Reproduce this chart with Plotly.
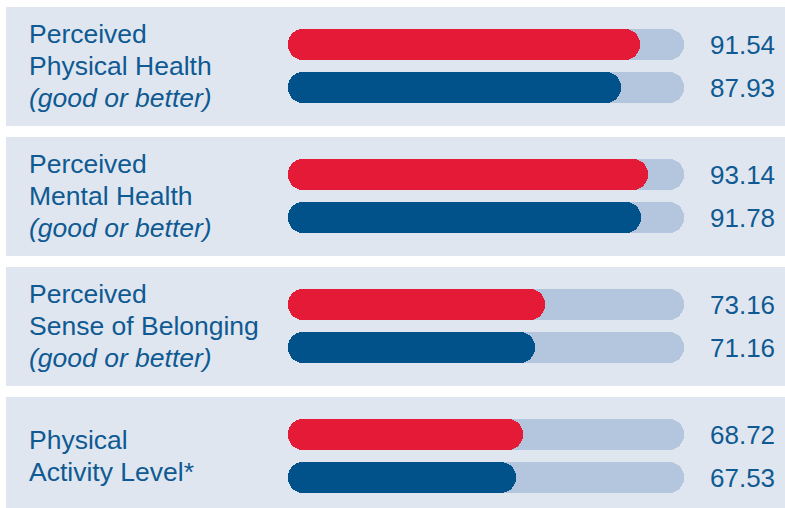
import plotly.graph_objects as go

# --- Data ---
label_lines = [
    ["Perceived", "Physical Health", "<i>(good or better)</i>"],
    ["Perceived", "Mental Health", "<i>(good or better)</i>"],
    ["Perceived", "Sense of Belonging", "<i>(good or better)</i>"],
    ["Physical", "Activity Level*"],
]
red_values = [91.54, 93.14, 73.16, 68.72]
blue_values = [87.93, 91.78, 71.16, 67.53]
track_max = 100

# --- Style ---
RED = "#e41a37"
BLUE = "#01518a"
TRACK = "#b4c6de"
PANEL = "#dfe6f0"
TEXT = "#0f5a92"
FONT = "Liberation Sans, Arial, sans-serif"

TRACK_START = 23.24   # where the visible track begins on the value scale
OFFSET = 0.1654       # red/blue offset from the panel centre (panel spacing = 1)
BAR_W = 0.2385

n = len(red_values)
panels = list(range(n))
y_red = [i - OFFSET for i in panels]
y_blue = [i + OFFSET for i in panels]

fig = go.Figure()


def add_round_bar(ys, ends, color):
    fig.add_trace(go.Bar(
        y=ys, x=[e - TRACK_START for e in ends], base=TRACK_START,
        orientation="h", width=BAR_W,
        marker=dict(color=color, cornerradius="50%", line_width=0),
        hoverinfo="skip", showlegend=False,
    ))


add_round_bar(y_red + y_blue, [track_max] * (2 * n), TRACK)
add_round_bar(y_red, red_values, RED)
add_round_bar(y_blue, blue_values, BLUE)

# panel backgrounds
shapes = []
for i in panels:
    shapes.append(dict(type="rect", xref="paper", yref="y", x0=6 / 785, x1=1,
                       y0=i - 0.4538, y1=i + 0.4615, fillcolor=PANEL,
                       line_width=0, layer="below"))

annotations = []
LINE_PX = 32
for i, lines in enumerate(label_lines):
    m = len(lines)
    for j, line in enumerate(lines):
        annotations.append(dict(
            xref="paper", yref="y", x=27 / 785, y=i, xanchor="left", yanchor="middle",
            yshift=-(j - (m - 1) / 2) * LINE_PX, text=line, showarrow=False,
            font=dict(family=FONT, size=26.5, color=TEXT),
        ))
for ys, vals in ((y_red, red_values), (y_blue, blue_values)):
    for y, v in zip(ys, vals):
        annotations.append(dict(
            xref="paper", yref="y", x=777 / 785, y=y, xanchor="right", yanchor="middle",
            text=f"{v:.2f}", showarrow=False,
            font=dict(family=FONT, size=26, color=TEXT),
        ))

fig.update_layout(
    width=785, height=508,
    margin=dict(l=0, r=0, t=0, b=0),
    paper_bgcolor="white", plot_bgcolor="white",
    barmode="overlay", bargap=0,
    xaxis=dict(range=[-32.76, 119.70], visible=False, fixedrange=True),
    yaxis=dict(range=[3.4, -0.5077], visible=False, fixedrange=True),
    shapes=shapes, annotations=annotations,
    showlegend=False,
)

fig.write_html("out.html", config={"displayModeBar": False},
               post_script="document.body.style.margin='0';")
